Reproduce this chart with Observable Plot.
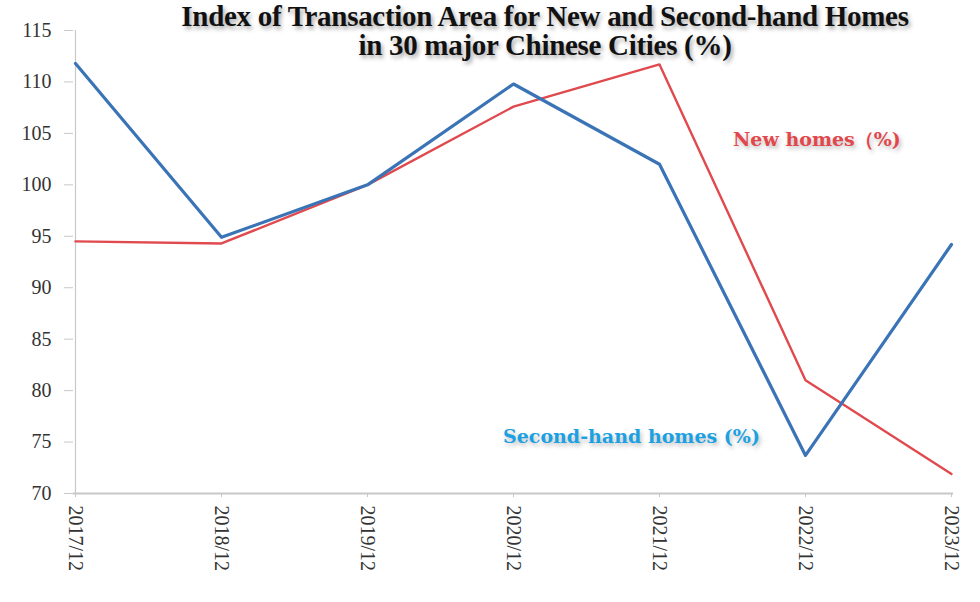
<!DOCTYPE html>
<html>
<head>
<meta charset="utf-8">
<script src="https://cdn.jsdelivr.net/npm/d3@7"></script>
<script src="https://cdn.jsdelivr.net/npm/@observablehq/plot@0.6"></script>
<style>
  html, body { margin: 0; padding: 0; background: #fff; }
  #wrap { position: relative; width: 980px; height: 602px; }
  #title { position: absolute; left: 0; width: 1090px; top: 2px; text-align: center;
    font-family: "Liberation Serif", serif; font-weight: bold; font-size: 29px; line-height: 29px;
    color: #111; text-shadow: 2px 3px 4px rgba(0,0,0,0.35); letter-spacing: -0.3px; }
  .lab { position: absolute; font-family: "DejaVu Serif", serif; font-weight: bold; font-size: 19px;
    text-shadow: 2px 3px 4px rgba(0,0,0,0.25); white-space: nowrap; }
</style>
</head>
<body>
<div id="wrap">
  <div id="chart"></div>
  <div id="title">Index of Transaction Area for New and Second-hand Homes<br>in 30 major Chinese Cities (%)</div>
  <div class="lab" style="left:733px; top:127px; color:#e2474b;">New homes（%)</div>
  <div class="lab" style="left:503px; top:425px; color:#1ba1e2;">Second-hand homes (%)</div>
</div>
<script>
const periods = ["2017/12","2018/12","2019/12","2020/12","2021/12","2022/12","2023/12"];
const newHomes = [94.5, 94.3, 100.0, 107.6, 111.7, 81.0, 71.9];
const secondHand = [111.8, 94.9, 100.0, 109.8, 102.0, 73.7, 94.2];
const yTicks = [70, 75, 80, 85, 90, 95, 100, 105, 110, 115];

const newData = periods.map((p, i) => ({period: p, value: newHomes[i]}));
const secData = periods.map((p, i) => ({period: p, value: secondHand[i]}));

const chart = Plot.plot({
  width: 980,
  height: 602,
  marginLeft: 73,
  marginRight: 27,
  marginTop: 30,
  marginBottom: 109,
  style: { fontFamily: "'Liberation Serif', serif", fontSize: "20px", color: "#333", background: "#fff" },
  x: { type: "point", domain: periods, padding: 0, label: null },
  y: { domain: [70, 115], label: null },
  marks: [
    Plot.ruleX([periods[0]], { stroke: "#c8c8c8", strokeWidth: 1.2 }),
    Plot.ruleY([70], { stroke: "#c8c8c8", strokeWidth: 2 }),
    Plot.axisY({ ticks: yTicks, tickSize: 9, stroke: "#c8c8c8", tickPadding: 13, fill: "#333", fontSize: 20 }),
    Plot.axisX({ tickSize: 4, stroke: "#c8c8c8", tickRotate: 90, tickPadding: 8, fill: "#333", fontSize: 20, textAnchor: "start" }),
    Plot.line(newData, { x: "period", y: "value", stroke: "#e04a4e", strokeWidth: 2.4 }),
    Plot.line(secData, { x: "period", y: "value", stroke: "#3a74b6", strokeWidth: 3.2 })
  ]
});
document.getElementById("chart").appendChild(chart);
</script>
</body>
</html>
